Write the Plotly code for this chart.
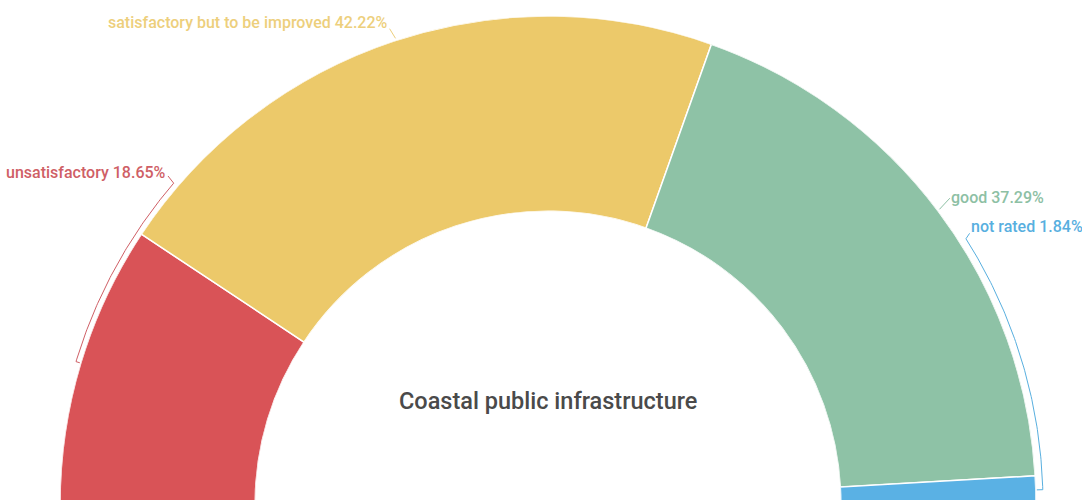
import numpy as np
import plotly.graph_objects as go

categories = ["unsatisfactory", "satisfactory but to be improved", "good", "not rated"]
values = [18.65, 42.22, 37.29, 1.84]
colors = ["#d95357", "#ecc96a", "#8ec2a6", "#5ab1e4"]
label_colors = ["#cf5f66", "#edcf7c", "#8dc0a4", "#58afdf"]
title_text = "Coastal public infrastructure"

W, H = 1082, 508          # page viewport is 500 tall; bottom 8px fall outside it
CX, CY, R = 548, 504, 488
HOLE = 0.6

# angles: half donut from 180 (left) to 0 (right)
widths = [v * 1.8 for v in values]
centers = []
start = 180.0
for w in widths:
    centers.append(start - w / 2)
    start -= w

fig = go.Figure()
fig.add_trace(go.Barpolar(
    r=[1] * len(values), theta=centers, width=widths,
    marker=dict(color=colors, line=dict(color="white", width=1.5)),
    hoverinfo="skip", showlegend=False,
))

def pt(rad, deg):
    a = np.radians(deg)
    return CX + rad * np.cos(a), CY - rad * np.sin(a)

def add_path(pts, color):
    xs = [p[0] for p in pts]
    ys = [p[1] for p in pts]
    fig.add_trace(go.Scatter(x=xs, y=ys, mode="lines", line=dict(color=color, width=1),
                             hoverinfo="skip", showlegend=False, xaxis="x", yaxis="y"))

# red bracket: from slice middle along arc up to label
a0, a1 = centers[0], 139.4
pts = [pt(489, a0)] + [pt(493, t) for t in np.linspace(a0, a1, 80)] + [pt(502, a1 - 0.2)]
add_path(pts, label_colors[0])
# yellow leader
add_path([pt(490, centers[1] - 0.3), pt(501, centers[1])], label_colors[1])
# green leader
add_path([pt(490, centers[2] + 0.1), pt(505, centers[2] + 0.4)], label_colors[2])
# blue bracket
b0, b1 = centers[3], 32.4
pts = [pt(489, b0)] + [pt(495, t) for t in np.linspace(b0, b1, 80)] + [pt(501, b1 + 0.3)]
add_path(pts, label_colors[3])

fig.update_layout(
    width=W, height=H,
    margin=dict(l=0, r=0, t=0, b=0),
    paper_bgcolor="white",
    plot_bgcolor="rgba(0,0,0,0)",
    polar=dict(
        domain=dict(x=[(CX - R) / W, (CX + R) / W], y=[(H - CY) / H, (H - CY + R) / H]),
        sector=[0, 180], hole=HOLE, bgcolor="white",
        radialaxis=dict(visible=False, range=[0, 1]),
        angularaxis=dict(visible=False, rotation=0, direction="counterclockwise"),
    ),
    xaxis=dict(range=[0, W], visible=False, domain=[0, 1], fixedrange=True),
    yaxis=dict(range=[H, 0], visible=False, domain=[0, 1], fixedrange=True),
    font=dict(family="Roboto, sans-serif"),
)

def px_x(x):
    return x / W

def px_y(y):
    return 1 - y / H

label_pos = [(168, 172, "right"), (390, 22, "right"), (949, 197, "left"), (969, 226, "left")]
for cat, v, col, (x, y, anc) in zip(categories, values, label_colors, label_pos):
    fig.add_annotation(x=px_x(x), y=px_y(y), xref="paper", yref="paper",
                       text=f"{cat} {v:.2f}%", showarrow=False,
                       xanchor=anc, yanchor="middle",
                       font=dict(family="Roboto", size=16, color=col, weight=500))

fig.add_annotation(x=px_x(548), y=px_y(401), xref="paper", yref="paper",
                   text=title_text, showarrow=False, xanchor="center", yanchor="middle",
                   font=dict(family="Roboto", size=23.5, color="#4a4a4a", weight=500))

fig.write_html("out.html", config={"displayModeBar": False},
               post_script="document.body.style.margin='0';document.body.style.overflow='hidden';")
